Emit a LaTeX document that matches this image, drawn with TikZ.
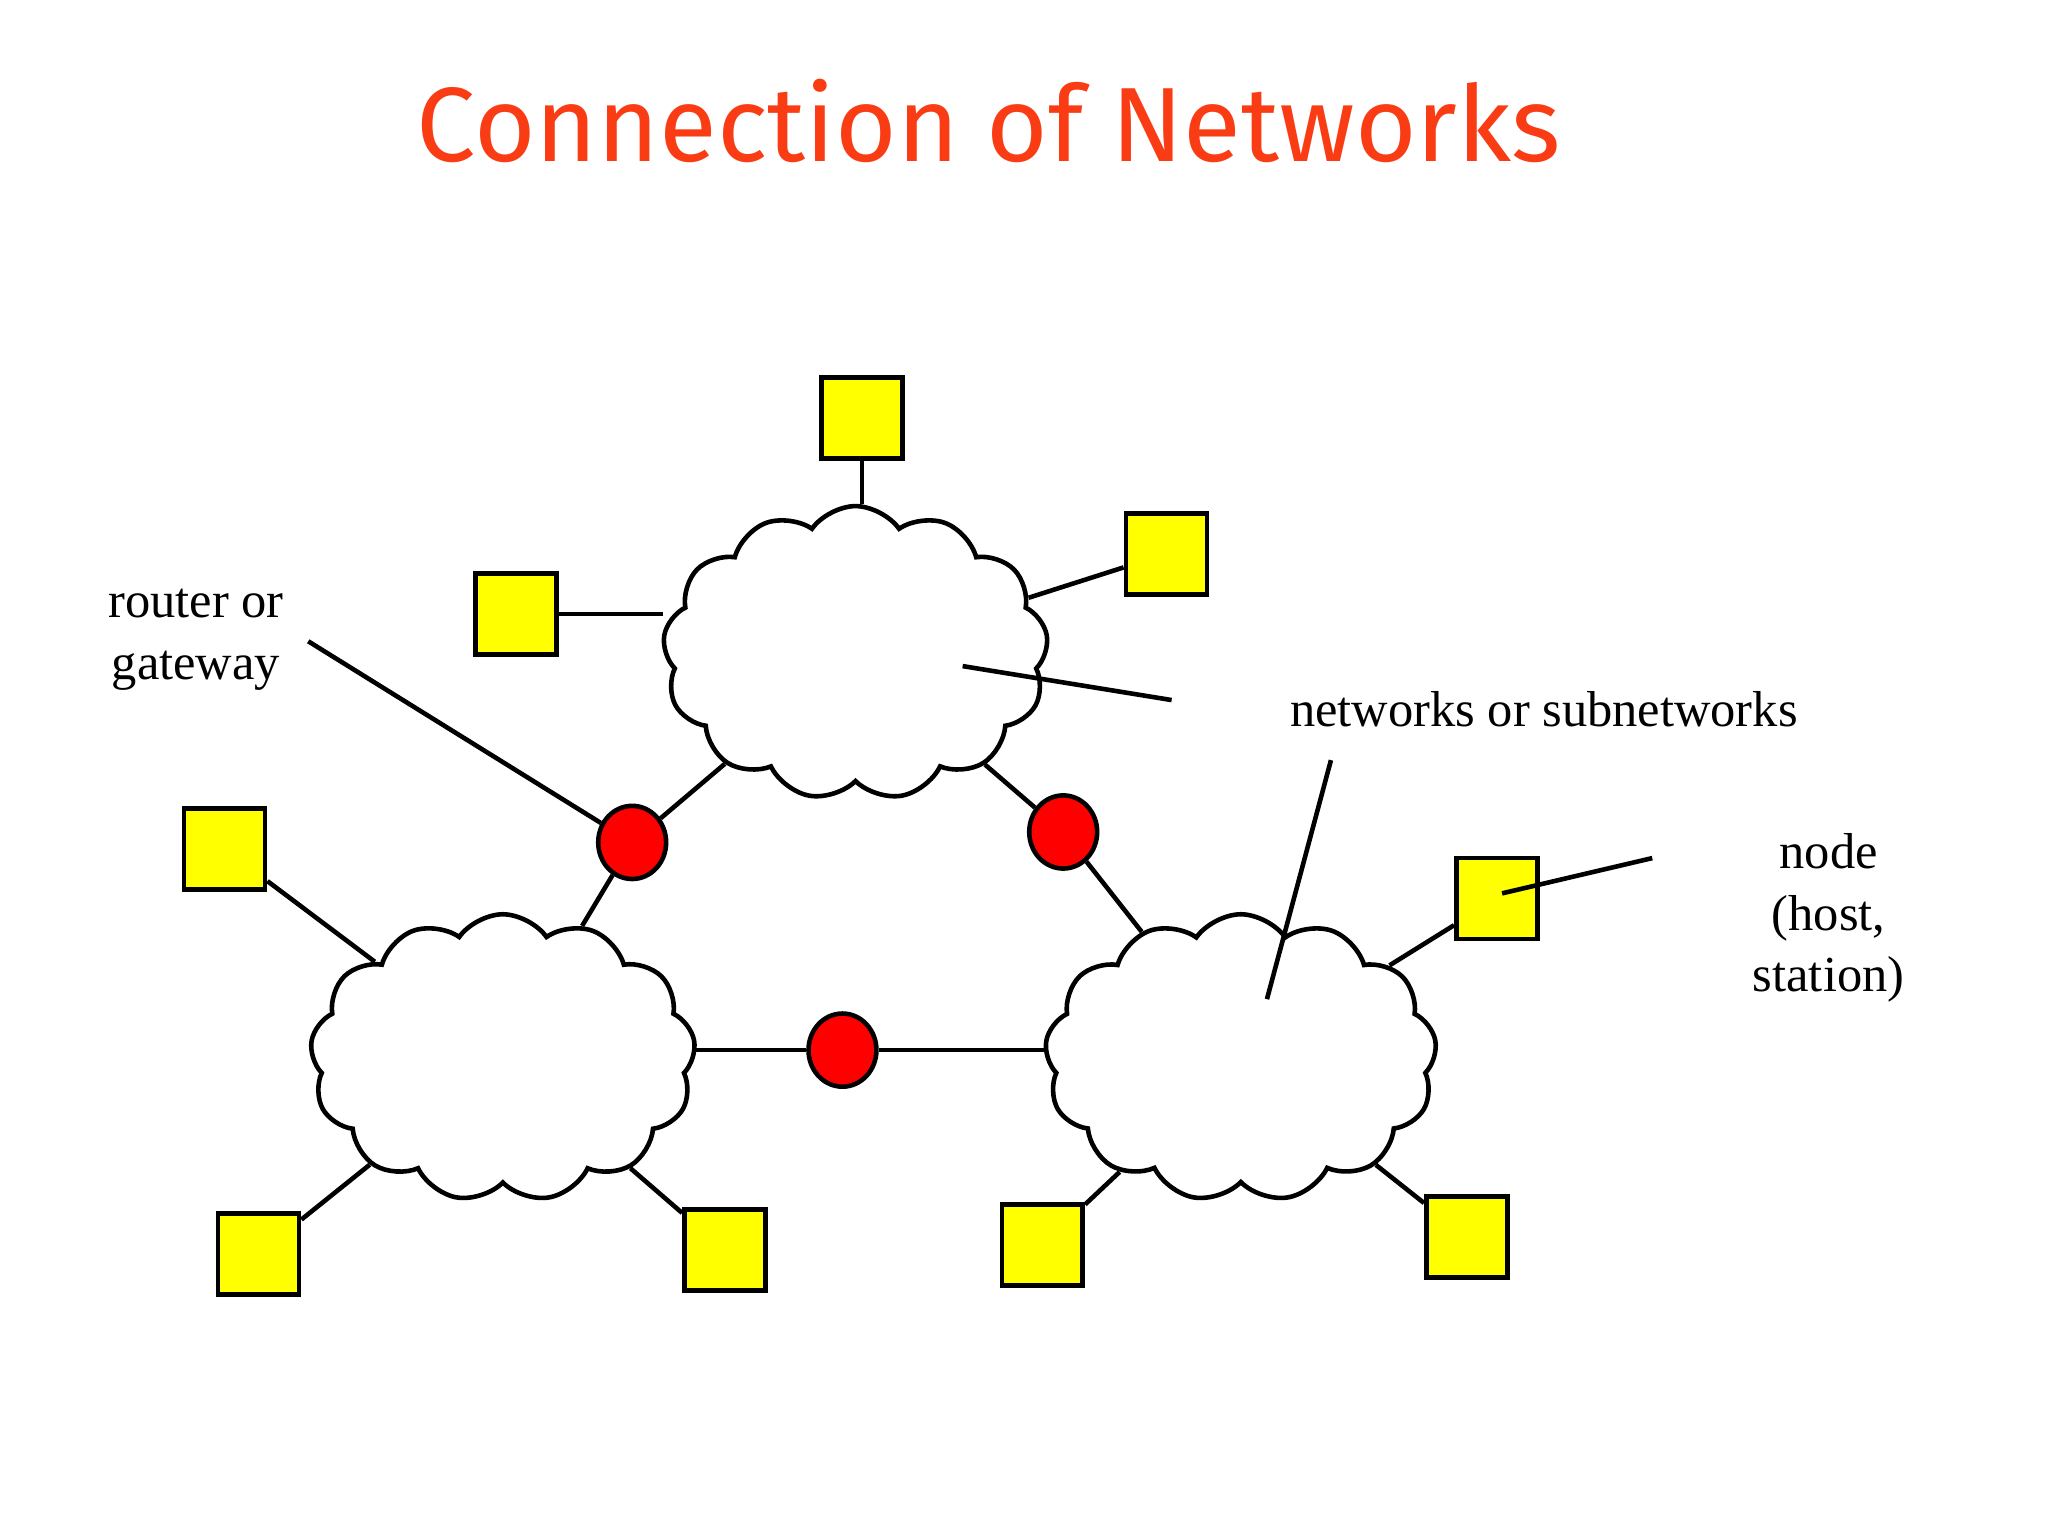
\documentclass[tikz,border=0pt]{standalone}
\usepackage{fontspec}
\setmainfont{Liberation Serif}
\setsansfont{Fira Sans}
\usetikzlibrary{positioning,shapes.symbols,shapes.geometric}
\definecolor{titlered}{RGB}{250,60,20}
\definecolor{hostyellow}{RGB}{255,255,0}

\begin{document}
\begin{tikzpicture}[x=1cm,y=1cm,line width=1pt,
net/.style={cloud, draw=black, cloud puffs=13, cloud puff arc=110, aspect=1.35, inner sep=0pt},
host/.style={rectangle, draw=black, fill=hostyellow, minimum size=0.62cm, inner sep=0pt},
router/.style={ellipse, draw=black, fill=red, minimum width=0.52cm, minimum height=0.56cm, inner sep=0pt},
lbl/.style={font=\fontsize{11}{13.4}\selectfont, align=center}
]
\useasboundingbox (0,0) rectangle (15.68,11.76);

\node[font=\sffamily\fontsize{23}{26}\selectfont, text=titlered] (title) at (7.57,10.83) {Connection of Networks};

% networks
\node[net, minimum width=2.95cm, minimum height=2.25cm] (ntop) at (6.55,6.76) {};
\node[net, minimum width=2.95cm, minimum height=2.2cm] (nleft) at (3.85,3.66) {};
\node[net, minimum width=3.0cm, minimum height=2.2cm] (nright) at (9.50,3.66) {};

% routers
\node[router] (r1) at (4.84,5.31) {};
\node[router] (r2) at (8.14,5.39) {};
\node[router] (r3) at (6.45,3.72) {};

% hosts
\node[host] (h1) at (6.60,8.56) {};
\node[host] (h2) at (8.93,7.52) {};
\node[host] (h3) at (3.95,7.06) {};
\node[host] (h4) at (1.72,5.26) {};
\node[host] (h5) at (1.98,2.16) {};
\node[host] (h6) at (5.55,2.19) {};
\node[host] (h7) at (7.98,2.23) {};
\node[host] (h8) at (11.23,2.29) {};
\node[host] (h9) at (11.46,4.88) {};

% labels
\node[lbl] (lrouter) at (1.50,6.86) {router or\\gateway};
\node[lbl] (lnet) at (11.82,6.33) {networks or subnetworks};
\node[lbl] (lnode) at (14.00,4.73) {node\\(host,\\station)};

\coordinate (pr) at (2.36,6.85);
\coordinate (pt1) at (7.37,6.66);
\coordinate (pt2) at (8.97,6.40);
\coordinate (pn1) at (10.19,5.94);
\coordinate (pn2) at (9.70,4.11);
\coordinate (ph1) at (11.50,4.92);
\coordinate (ph2) at (12.65,5.19);

%Host links
\draw (h1) -- (h1 |- ntop.north);
\draw (h2) -- (ntop);
\draw (h3) -- (h3 -| ntop.west);
\draw (h4) -- (nleft);
\draw (h5) -- (nleft);
\draw (h6) -- (nleft);
\draw (h7) -- (nright);
\draw (h8) -- (nright);
\draw (h9) -- (nright);

%Router links
\draw (r1) -- (ntop);
\draw (r1) -- (nleft);
\draw (r2) -- (ntop);
\draw (r2) -- (nright);
\draw (r3) -- (r3 -| nleft.east);
\draw (r3) -- (r3 -| nright.west);

%Label pointers
\draw (pr) -- (r1);
\draw (pt1) -- (pt2);
\draw (pn1) -- (pn2);
\draw (ph1) -- (ph2);
\end{tikzpicture}
\end{document}
